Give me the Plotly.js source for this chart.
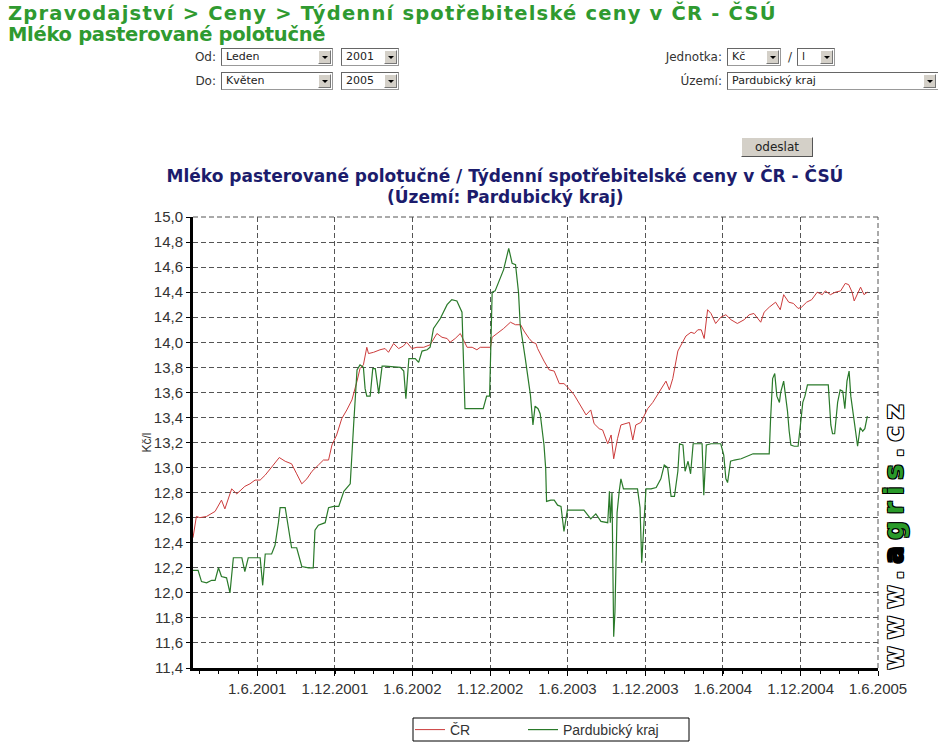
<!DOCTYPE html>
<html><head><meta charset="utf-8">
<script src="https://cdn.plot.ly/plotly-3.0.1.min.js"></script>
<style>
body{margin:0;background:#fff;width:938px;height:742px;overflow:hidden;position:relative;font-family:"DejaVu Sans",sans-serif;}
#chart{position:absolute;left:0;top:0;width:938px;height:742px;}
.h{position:absolute;left:8px;color:#2f9a30;font-family:"DejaVu Sans",sans-serif;font-weight:bold;font-size:19.5px;white-space:nowrap;line-height:20px;height:20px;}
.lbl{position:absolute;font-size:12px;color:#333;white-space:nowrap;line-height:18px;text-align:right;}
.sel{position:absolute;height:18px;border:1px solid #999;border-top-color:#666;border-left-color:#666;background:#fff;font-size:11px;line-height:16px;padding-left:4px;box-sizing:border-box;color:#222;white-space:nowrap;overflow:hidden;}
.ar{position:absolute;right:1px;top:1px;width:13px;height:14px;background:#d4d0c8;border:1px solid #fff;border-right-color:#777;border-bottom-color:#777;box-sizing:border-box;}
.ar:after{content:"";position:absolute;left:3px;top:5px;border-left:3px solid transparent;border-right:3px solid transparent;border-top:3px solid #000;}
.btn{position:absolute;background:#d4d0c8;border:1px solid #fff;border-right-color:#555;border-bottom-color:#555;font-size:12px;color:#222;text-align:center;line-height:18px;box-sizing:border-box;}
</style></head>
<body>
<div id="chart"></div>
<div class="h" style="top:4px;letter-spacing:1.2px">Zpravodajství &gt; Ceny &gt; Týdenní spotřebitelské ceny v ČR - ČSÚ</div>
<div class="h" style="top:25px;letter-spacing:-0.3px">Mléko pasterované polotučné</div>

<div class="lbl" style="left:150px;width:66px;top:48px">Od:</div>
<div class="sel" style="left:221px;top:48px;width:112px">Leden<div class="ar"></div></div>
<div class="sel" style="left:341px;top:48px;width:58px">2001<div class="ar"></div></div>
<div class="lbl" style="left:150px;width:66px;top:72px">Do:</div>
<div class="sel" style="left:221px;top:72px;width:112px">Květen<div class="ar"></div></div>
<div class="sel" style="left:341px;top:72px;width:58px">2005<div class="ar"></div></div>

<div class="lbl" style="left:600px;width:122px;top:48px">Jednotka:</div>
<div class="sel" style="left:727px;top:48px;width:54px">Kč<div class="ar"></div></div>
<div class="lbl" style="left:786px;width:6px;top:48px">/</div>
<div class="sel" style="left:797px;top:48px;width:38px">l<div class="ar"></div></div>
<div class="lbl" style="left:600px;width:122px;top:72px">Území:</div>
<div class="sel" style="left:727px;top:72px;width:215px">Pardubický kraj<div class="ar" style="right:5px"></div></div>
<div class="btn" style="left:741px;top:137px;width:72px;height:20px">odeslat</div>

<script>
var xTickVals = ['2001-06-01','2001-12-01','2002-06-01','2002-12-01','2003-06-01','2003-12-01','2004-06-01','2004-12-01','2005-06-01'];
var xTickText = ['1.6.2001','1.12.2001','1.6.2002','1.12.2002','1.6.2003','1.12.2003','1.6.2004','1.12.2004','1.6.2005'];

var crDates = ['2001-01-01','2001-01-09','2001-01-17','2001-02-02','2001-02-22','2001-03-09','2001-03-17','2001-04-02','2001-04-14','2001-05-03','2001-05-15','2001-05-27','2001-06-08','2001-06-20','2001-07-09','2001-07-23','2001-08-06','2001-08-21','2001-09-02','2001-09-14','2001-09-26','2001-10-08','2001-10-23','2001-11-04','2001-11-16','2001-11-24','2001-12-05','2001-12-17','2001-12-29',
'2002-01-10','2002-01-22','2002-01-29','2002-02-06','2002-02-14','2002-02-18','2002-03-02','2002-03-17','2002-03-29','2002-04-06','2002-04-18','2002-04-30','2002-05-11','2002-05-19','2002-05-31','2002-06-12','2002-06-28','2002-07-13','2002-07-21','2002-07-29','2002-08-10','2002-08-22','2002-08-29','2002-09-10','2002-09-22','2002-09-30','2002-10-08','2002-10-20','2002-10-31','2002-11-08','2002-11-20','2002-12-02','2002-12-06','2002-12-18',
'2003-01-02','2003-01-18','2003-01-30','2003-02-11','2003-02-19','2003-03-03','2003-03-11','2003-03-19','2003-03-23','2003-04-07','2003-04-19','2003-05-01','2003-05-13','2003-05-24','2003-06-05','2003-06-17','2003-07-03','2003-07-15','2003-07-26','2003-08-03','2003-08-15','2003-08-23','2003-09-04','2003-09-12','2003-09-18','2003-09-27','2003-10-05','2003-10-17','2003-10-25','2003-11-02','2003-11-09','2003-11-21','2003-12-07','2003-12-19','2003-12-31',
'2004-01-12','2004-01-19','2004-01-27','2004-02-04','2004-02-16','2004-02-28','2004-03-06','2004-03-18','2004-03-26','2004-04-03','2004-04-11','2004-04-18','2004-04-26','2004-05-04','2004-05-15','2004-05-27','2004-06-08','2004-06-20','2004-07-05','2004-07-21','2004-08-02','2004-08-13','2004-08-29','2004-09-06','2004-09-18','2004-10-03','2004-10-14','2004-10-22','2004-11-03','2004-11-14','2004-11-25','2004-12-03','2004-12-15','2004-12-27',
'2005-01-09','2005-01-21','2005-01-28','2005-02-09','2005-02-21','2005-03-05','2005-03-16','2005-03-24','2005-04-01','2005-04-06','2005-04-13','2005-04-21','2005-04-29','2005-05-07'];
var crValues = [12.44,12.61,12.60,12.61,12.65,12.74,12.67,12.83,12.79,12.85,12.87,12.90,12.90,12.94,13.02,13.08,13.05,13.03,12.95,12.87,12.91,12.97,13.02,13.06,13.06,13.18,13.26,13.39,13.46,
13.54,13.69,13.79,13.82,13.96,13.91,13.92,13.94,13.95,13.92,13.99,13.95,13.97,14.00,13.95,13.96,13.96,13.98,14.03,14.07,14.04,14.03,14.00,14.03,14.07,14.02,13.96,13.96,13.94,13.96,13.96,13.96,14.04,14.07,
14.11,14.16,14.14,14.14,14.09,14.03,14.00,13.99,13.95,13.85,13.78,13.77,13.67,13.67,13.63,13.58,13.49,13.42,13.46,13.35,13.31,13.30,13.19,13.26,13.07,13.23,13.34,13.35,13.36,13.22,13.34,13.36,13.47,13.52,13.59,
13.65,13.69,13.62,13.71,13.93,14.00,14.05,14.08,14.07,14.10,14.10,14.03,14.26,14.23,14.15,14.20,14.22,14.18,14.15,14.18,14.22,14.23,14.16,14.24,14.28,14.32,14.26,14.38,14.32,14.31,14.27,14.28,14.32,14.34,
14.40,14.38,14.41,14.38,14.40,14.41,14.47,14.46,14.40,14.33,14.38,14.44,14.38,14.40];

var pkDates = ['2001-01-01','2001-01-13','2001-01-21','2001-02-02','2001-02-14','2001-02-22','2001-03-02','2001-03-09','2001-03-21','2001-03-29','2001-04-06','2001-04-14','2001-04-26','2001-05-03','2001-05-11','2001-05-27','2001-06-08','2001-06-14','2001-06-20','2001-07-05','2001-07-13','2001-07-21','2001-07-25','2001-08-06','2001-08-14','2001-08-21','2001-09-02','2001-09-14','2001-09-30','2001-10-11','2001-10-15','2001-10-23','2001-11-08','2001-11-16','2001-11-28','2001-12-10','2001-12-22',
'2002-01-06','2002-01-14','2002-01-22','2002-01-29','2002-02-06','2002-02-10','2002-02-14','2002-02-22','2002-02-28','2002-03-06','2002-03-14','2002-03-22','2002-03-29','2002-05-04','2002-05-12','2002-05-17','2002-05-24','2002-06-08','2002-06-16','2002-06-24','2002-07-06','2002-07-13','2002-07-21','2002-08-06','2002-08-22','2002-09-02','2002-09-14','2002-09-26','2002-10-03','2002-10-19','2002-11-15','2002-11-23','2002-11-30','2002-12-06','2002-12-13',
'2003-01-02','2003-01-14','2003-01-22','2003-01-30','2003-02-06','2003-02-10','2003-02-22','2003-03-06','2003-03-12','2003-03-17','2003-03-24','2003-03-29','2003-04-07','2003-04-11','2003-04-13','2003-04-23','2003-05-01','2003-05-09','2003-05-17','2003-05-24','2003-06-01','2003-06-17','2003-07-10','2003-07-26','2003-08-07','2003-08-19','2003-09-04','2003-09-08','2003-09-10','2003-09-14','2003-09-18','2003-09-21','2003-09-26','2003-10-01','2003-10-05','2003-10-11','2003-10-28','2003-11-13','2003-11-19','2003-11-23','2003-11-29','2003-12-03','2003-12-15','2003-12-27',
'2004-01-07','2004-01-15','2004-01-23','2004-01-31','2004-02-08','2004-02-16','2004-02-20','2004-02-28','2004-03-04','2004-03-11','2004-03-17','2004-03-23','2004-04-03','2004-04-13','2004-04-17','2004-04-23','2004-05-04','2004-05-27','2004-06-03','2004-06-08','2004-06-12','2004-06-19','2004-06-28','2004-07-14','2004-08-11','2004-08-30','2004-09-18','2004-09-21','2004-09-26','2004-10-01','2004-10-06','2004-10-12','2004-10-15','2004-10-22','2004-10-26','2004-10-31','2004-11-04','2004-11-08','2004-11-16','2004-11-25','2004-12-02','2004-12-06','2004-12-11','2004-12-17',
'2005-01-02','2005-01-18','2005-02-04','2005-02-10','2005-02-14','2005-02-19','2005-02-26','2005-03-04','2005-03-10','2005-03-15','2005-03-20','2005-03-25','2005-03-29','2005-04-06','2005-04-14','2005-04-20','2005-04-26','2005-05-01','2005-05-07'];
var pkValues = [12.18,12.18,12.09,12.08,12.10,12.10,12.20,12.13,12.12,12.00,12.28,12.28,12.28,12.17,12.28,12.28,12.28,12.06,12.31,12.31,12.38,12.56,12.68,12.68,12.52,12.36,12.36,12.21,12.20,12.20,12.50,12.54,12.56,12.68,12.69,12.69,12.81,
12.87,13.34,13.78,13.82,13.80,13.63,13.57,13.57,13.79,13.79,13.59,13.81,13.81,13.80,13.77,13.55,13.87,13.87,13.84,13.93,13.94,13.96,14.11,14.19,14.30,14.34,14.33,14.24,13.47,13.47,13.47,13.57,13.57,14.40,14.41,
14.58,14.75,14.63,14.62,14.40,14.14,13.87,13.58,13.34,13.49,13.47,13.43,13.18,12.99,12.73,12.74,12.74,12.70,12.69,12.49,12.66,12.66,12.66,12.59,12.63,12.57,12.56,12.81,12.56,12.80,11.65,11.85,12.64,12.81,12.91,12.83,12.83,12.83,12.68,12.24,12.60,12.83,12.83,12.84,
12.91,13.02,13.00,12.77,12.77,12.97,13.19,13.18,12.97,13.05,12.95,13.19,13.19,13.19,12.78,13.18,13.19,13.19,13.10,12.91,12.88,13.05,13.06,13.07,13.11,13.11,13.11,13.37,13.71,13.75,13.57,13.52,13.60,13.69,13.59,13.45,13.29,13.18,13.17,13.17,13.39,13.52,13.57,13.66,
13.66,13.66,13.66,13.34,13.27,13.27,13.52,13.62,13.61,13.47,13.69,13.77,13.57,13.37,13.17,13.32,13.29,13.31,13.41];

var seriesNames = ['ČR','Pardubický kraj'];
var chartTitle = 'Mléko pasterované polotučné / Týdenní spotřebitelské ceny v ČR - ČSÚ';
var chartSubtitle = '(Území: Pardubický kraj)';

var sans = '"Liberation Sans", Arial, sans-serif';
var tickFont = {family:sans, size:15, color:'#333'};
var grid = {showgrid:true, gridcolor:'#555', gridwidth:1, griddash:'5px,3px'};
var titleFont = {family:'"DejaVu Sans", sans-serif', size:17, color:'#1c1c6c', weight:'bold'};
var legendFont = {family:sans, size:14, color:'#333'};

var traces = [
  {x:crDates, y:crValues, type:'scatter', mode:'lines', name:seriesNames[0], legend:'legend', line:{color:'#cc3b3b', width:1}},
  {x:pkDates, y:pkValues, type:'scatter', mode:'lines', name:seriesNames[1], legend:'legend2', line:{color:'#2a7a2a', width:1.2}}
];

function legendAt(px) {
  return {orientation:'h', xref:'container', yref:'container', x:px/938, xanchor:'left', y:1-730/742, yanchor:'middle',
    borderwidth:0, bgcolor:'rgba(0,0,0,0)', itemwidth:30, font:legendFont};
}

var layout = {
  width:938, height:742,
  margin:{l:193, r:60, t:217, b:74},
  paper_bgcolor:'rgba(0,0,0,0)', plot_bgcolor:'#fff',
  separators:',.',
  showlegend:true,
  title:{text:chartTitle, font:titleFont,
    xref:'container', x:505/938, xanchor:'center', yref:'container', y:1-176/742, yanchor:'middle'},
  xaxis:Object.assign({type:'date', range:['2001-01-01','2005-06-01'], tickmode:'array', tickvals:xTickVals, ticktext:xTickText,
    tickfont:tickFont, showline:true, linecolor:'#000', linewidth:3, ticks:'outside', ticklen:5, tickcolor:'#000', tickwidth:1,
    ticklabelstandoff:0, zeroline:false, fixedrange:true,
    minor:{tick0:'2000-12-01', dtick:45.65625*86400000, ticks:'outside', ticklen:3, tickcolor:'#000', showgrid:false}}, grid),
  yaxis:Object.assign({range:[11.4,15.0], tick0:11.4, dtick:0.2, tickformat:'.1f', tickfont:tickFont,
    showline:true, linecolor:'#000', linewidth:3, ticks:'outside', ticklen:4, tickcolor:'#000', zeroline:false, fixedrange:true,
    title:{text:'Kč/l', font:{family:sans, size:12, color:'#333'}, standoff:0}}, grid),
  legend:legendAt(410),
  legend2:legendAt(523),
  shapes:[
    {type:'line', xref:'paper', yref:'paper', x0:1, x1:1, y0:0, y1:1, line:{color:'#555', width:1, dash:'5px,3px'}},
    {type:'line', xref:'paper', yref:'paper', x0:0, x1:1, y0:1, y1:1, line:{color:'#555', width:1, dash:'5px,3px'}},
    {type:'rect', xref:'paper', yref:'paper', x0:(413-193)/685, x1:(689-193)/685, y0:(668-741)/451, y1:(668-718)/451,
     line:{color:'#000', width:1}, fillcolor:'rgba(0,0,0,0)', layer:'below'}
  ],
  annotations:[
    {xref:'paper', yref:'paper', x:(505-193)/685, y:(668-197)/451, xanchor:'center', yanchor:'middle', showarrow:false,
     text:chartSubtitle, font:titleFont},
    {xref:'paper', yref:'paper', x:(894-193)/685, y:(668-534)/451, xanchor:'center', yanchor:'middle', textangle:-90, showarrow:false,
     text:'<span style="letter-spacing:6.5px">www.<span style="color:#000">a</span><span style="color:#2a9a2a">gris</span>.cz</span>',
     font:{family:'"DejaVu Sans", sans-serif', size:26, color:'#fff', weight:'bold',
       shadow:'1px 1px 0 #000, -1px -1px 0 #000, 1px -1px 0 #000, -1px 1px 0 #000'}}
  ]
};

Plotly.newPlot('chart', traces, layout, {displayModeBar:false, staticPlot:true});
</script>
</body></html>
